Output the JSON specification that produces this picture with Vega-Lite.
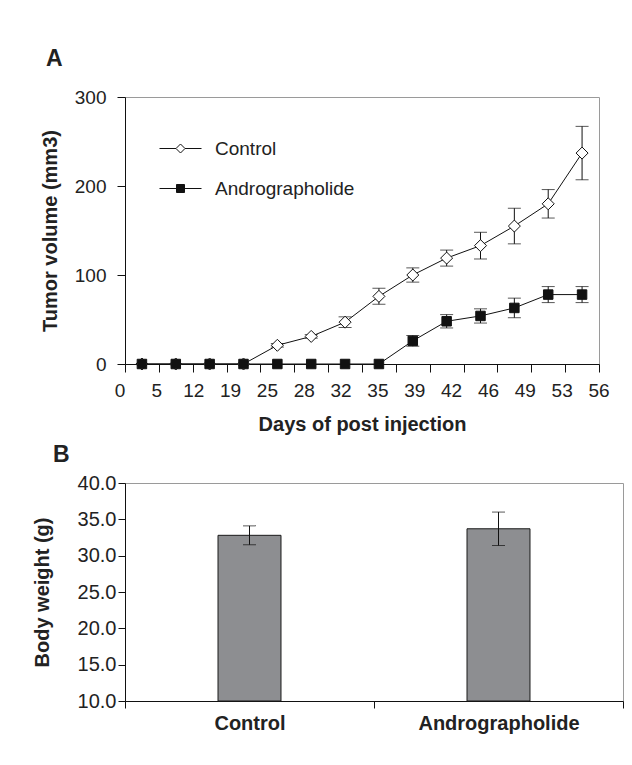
{
  "$schema": "https://vega.github.io/schema/vega-lite/v6.json",
  "padding": {"left": 31, "top": 47, "right": 5, "bottom": 0},
  "spacing": 8,
  "config": {
    "font": "Liberation Sans",
    "view": {"stroke": "#9a9a9a", "strokeWidth": 1},
    "axis": {"domainColor": "#111111", "tickColor": "#111111", "labelColor": "#222222", "titleColor": "#222222", "grid": false, "labelFont": "Liberation Sans", "titleFont": "Liberation Sans"},
    "title": {"font": "Liberation Sans", "color": "#222222"}
  },
  "datasets": {
    "tumor": [
      {"day": 0, "group": "Control", "volume": 0, "sem": 0},
      {"day": 5, "group": "Control", "volume": 0, "sem": 0},
      {"day": 12, "group": "Control", "volume": 0, "sem": 0},
      {"day": 19, "group": "Control", "volume": 0, "sem": 0},
      {"day": 25, "group": "Control", "volume": 21, "sem": 2},
      {"day": 28, "group": "Control", "volume": 31, "sem": 2},
      {"day": 32, "group": "Control", "volume": 47, "sem": 6},
      {"day": 35, "group": "Control", "volume": 76, "sem": 9},
      {"day": 39, "group": "Control", "volume": 100, "sem": 8},
      {"day": 42, "group": "Control", "volume": 119, "sem": 9},
      {"day": 46, "group": "Control", "volume": 133, "sem": 15},
      {"day": 49, "group": "Control", "volume": 155, "sem": 20},
      {"day": 53, "group": "Control", "volume": 180, "sem": 16},
      {"day": 56, "group": "Control", "volume": 237, "sem": 30},
      {"day": 0, "group": "Andrographolide", "volume": 0, "sem": 0},
      {"day": 5, "group": "Andrographolide", "volume": 0, "sem": 0},
      {"day": 12, "group": "Andrographolide", "volume": 0, "sem": 0},
      {"day": 19, "group": "Andrographolide", "volume": 0, "sem": 0},
      {"day": 25, "group": "Andrographolide", "volume": 0, "sem": 0},
      {"day": 28, "group": "Andrographolide", "volume": 0, "sem": 0},
      {"day": 32, "group": "Andrographolide", "volume": 0, "sem": 0},
      {"day": 35, "group": "Andrographolide", "volume": 0, "sem": 0},
      {"day": 39, "group": "Andrographolide", "volume": 26, "sem": 6},
      {"day": 42, "group": "Andrographolide", "volume": 48, "sem": 7.5},
      {"day": 46, "group": "Andrographolide", "volume": 54, "sem": 8},
      {"day": 49, "group": "Andrographolide", "volume": 63, "sem": 11},
      {"day": 53, "group": "Andrographolide", "volume": 78, "sem": 9},
      {"day": 56, "group": "Andrographolide", "volume": 78, "sem": 9}
    ],
    "weight": [
      {"group": "Control", "weight": 32.8, "sem": 1.3},
      {"group": "Andrographolide", "weight": 33.7, "sem": 2.3}
    ]
  },
  "vconcat": [
    {
      "width": 474,
      "height": 267,
      "title": {"text": "A", "anchor": "start", "frame": "group", "dx": -79, "offset": -1, "fontSize": 23, "fontWeight": "bold", "baseline": "alphabetic"},
      "data": {"name": "tumor"},
      "layer": [
        {
          "encoding": {
            "x": {"field": "day", "type": "ordinal", "sort": "ascending", "scale": {"type": "band", "paddingInner": 0, "paddingOuter": 0},
              "axis": {"labels": false, "tickBand": "extent", "tickSize": 8, "title": "Days of post injection", "titlePadding": 42, "titleFontSize": 20, "titleFontWeight": "bold"}},
            "y": {"field": "volume", "type": "quantitative", "scale": {"domain": [0, 300]},
              "axis": {"values": [0, 100, 200, 300], "tickSize": 8, "labelPadding": 11, "labelFontSize": 19, "title": "Tumor volume (mm3)", "titleFontSize": 20, "titleFontWeight": "bold", "titlePadding": 14}}
          },
          "layer": [
            {"mark": {"type": "line", "color": "#111111", "strokeWidth": 1}, "encoding": {"detail": {"field": "group"}}},
            {"transform": [{"filter": "datum.sem > 0"}], "mark": {"type": "errorbar", "color": "#111111", "ticks": {"size": 13, "color": "#111111"}}, "encoding": {"yError": {"field": "sem"}}},
            {"transform": [{"filter": "datum.group === 'Control'"}],
              "mark": {"type": "point", "shape": "diamond", "size": 144, "filled": true, "stroke": "#111111", "strokeWidth": 1, "opacity": 1},
              "encoding": {
                "fill": {"field": "group", "scale": {"domain": ["Control", "Andrographolide"], "range": ["white", "#111111"]},
                  "legend": {"orient": "none", "legendX": 45, "legendY": 41, "title": null, "labelFontSize": 19, "labelColor": "#222222", "labelOffset": 24, "symbolSize": 400, "rowPadding": 19, "padding": 0, "symbolStrokeColor": "#111111", "symbolStrokeWidth": 1, "symbolOpacity": 1,
                    "encode": {"symbols": {"update": {
                      "shape": {"signal": "datum.value === 'Control' ? 'M-2.1,0H-0.45M0.45,0H2.1M-0.45,0L0,-0.45L0.45,0L0,0.45Z' : 'M-2.1,0H-0.4M0.4,0H2.1M-0.4,-0.4H0.4V0.4H-0.4Z'"}
                    }}}}}
              }},
            {"transform": [{"filter": "datum.group === 'Andrographolide'"}],
              "mark": {"type": "point", "shape": "square", "size": 90, "filled": true, "stroke": "#111111", "strokeWidth": 1, "opacity": 1},
              "encoding": {
                "fill": {"field": "group"}
              }}
          ]
        },
        {
          "transform": [{"filter": "datum.group === 'Control'"}],
          "mark": {"type": "text", "fontSize": 19, "dy": 27, "baseline": "middle", "color": "#222222"},
          "encoding": {
            "x": {"field": "day", "type": "ordinal", "sort": "ascending", "scale": {"type": "point", "padding": 0, "range": [-5, 474]}, "axis": null},
            "y": {"datum": 0},
            "text": {"field": "day", "type": "nominal"}
          }
        }
      ],
      "resolve": {"scale": {"x": "independent"}}
    },
    {
      "width": 498,
      "height": 218,
      "title": {"text": "B", "anchor": "start", "frame": "group", "dx": -72, "offset": -12, "fontSize": 23, "fontWeight": "bold", "baseline": "alphabetic"},
      "data": {"name": "weight"},
      "encoding": {
        "x": {"field": "group", "type": "nominal", "sort": ["Control", "Andrographolide"], "scale": {"type": "band", "paddingInner": 0, "paddingOuter": 0},
          "axis": {"title": null, "labelAngle": 0, "tickBand": "extent", "tickSize": 7, "labelPadding": 5, "labelFontSize": 20, "labelFontWeight": "bold"}},
        "y": {"field": "weight", "type": "quantitative", "scale": {"domain": [10, 40], "zero": false},
          "axis": {"values": [10, 15, 20, 25, 30, 35, 40], "format": ".1f", "tickSize": 7, "labelPadding": 2, "labelFontSize": 20, "title": "Body weight (g)", "titleFontSize": 20, "titleFontWeight": "bold", "titlePadding": 25}}
      },
      "layer": [
        {
          "mark": {"type": "bar", "width": {"band": 0.253}, "fill": "#8d8e91", "stroke": "#1a1a1a", "strokeWidth": 1},
          "encoding": {"y2": {"datum": 10}}
        },
        {
          "mark": {"type": "errorbar", "color": "#111111", "ticks": {"size": 13, "color": "#111111"}},
          "encoding": {"yError": {"field": "sem"}}
        }
      ]
    }
  ]
}
